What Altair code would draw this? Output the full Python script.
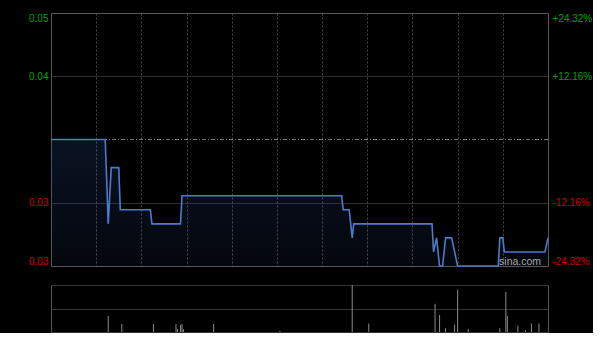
import altair as alt
import pandas as pd

# ---- data (trading-minute index 0..330, HKD) ----
minutes = [0, 36, 38, 40, 45, 46, 66, 67, 86, 87, 193, 194, 198, 200, 201,
           253, 254, 256, 258, 260, 262, 266, 268, 270, 297, 298, 300, 301, 328, 330]
prices = [0.037, 0.037, 0.031, 0.035, 0.035, 0.032, 0.032, 0.031, 0.031, 0.033,
          0.033, 0.032, 0.032, 0.030, 0.031,
          0.031, 0.029, 0.030, 0.028, 0.028, 0.030, 0.030, 0.029, 0.028,
          0.028, 0.030, 0.030, 0.029, 0.029, 0.030]

vol_minutes = [38, 47, 68, 83, 84, 86, 87, 88, 108, 152,
               200, 211, 255, 258, 262, 268, 270, 277, 298, 302,
               303, 310, 315, 319, 324]
volumes = [34, 17, 17, 17, 6, 15, 17, 6, 17, 2,
           100, 18, 60, 36, 8, 16, 90, 6, 8, 85,
           34, 13, 4, 18, 18]

prev_close = 0.037
price_ticks = [0.028, 0.0325, 0.0415, 0.046]
time_grid = [30, 60, 90, 120, 150, 180, 210, 240, 270, 300]
vol_ticks = [0, 50, 100]
watermark = ["sina.com"]

price_df = pd.DataFrame({"m": minutes, "p": prices})
vol_df = pd.DataFrame({"m": vol_minutes, "v": volumes})
wm_df = pd.DataFrame({"t": watermark})

FONT = "Liberation Sans"
GREEN = "#00a000"
RED = "#d40000"
W, H, VH = 497, 253, 47

xscale = alt.Scale(domain=[0, 330], nice=False, zero=False)
yscale = alt.Scale(domain=[0.028, 0.046], nice=False, zero=False)
vscale = alt.Scale(domain=[0, 100], nice=False)

label_color = {"condition": {"test": f"datum.value > {prev_close}", "value": GREEN}, "value": RED}

x_axis = alt.Axis(values=time_grid, labels=False, ticks=False, domain=False, title=None,
                  grid=True, gridColor="#4a4a4a", gridDash=[2, 2], gridWidth=1,
                  minExtent=0, maxExtent=0, offset=0)

left_axis = alt.Axis(values=price_ticks, title=None,
                     labelExpr="format(datum.value, '.2f')",
                     labelColor=label_color, labelFont=FONT, labelFontSize=10,
                     labelPadding=3, labelFlush=True, labelOverlap=False,
                     ticks=False, domain=False, grid=True, gridColor="#5a5a5a",
                     gridDash=[1, 1], minExtent=50, maxExtent=50)

right_axis = alt.Axis(orient="right", values=price_ticks, title=None,
                      labelExpr=f"(datum.value > {prev_close} ? '+' : '-') + format(abs(datum.value - {prev_close}) / {prev_close} * 100, '.2f') + '%'",
                      labelColor=label_color, labelFont=FONT, labelFontSize=10,
                      labelPadding=4, labelFlush=True, labelOverlap=False,
                      ticks=False, domain=False, grid=False)

area = alt.Chart(price_df).mark_area(
    color=alt.Gradient(
        gradient="linear",
        stops=[alt.GradientStop(color="rgba(45,85,160,0.22)", offset=0),
               alt.GradientStop(color="rgba(45,85,160,0.08)", offset=1)],
        x1=1, x2=1, y1=0, y2=1),
    interpolate="linear",
).encode(
    x=alt.X("m:Q", scale=xscale, axis=x_axis),
    y=alt.Y("p:Q", scale=yscale, axis=left_axis),
    y2=alt.datum(0.028),
)

prev_rule = alt.Chart(price_df).mark_rule(color="#7a7a7a", strokeDash=[4, 2, 1, 2], strokeWidth=1).encode(
    y=alt.YDatum(prev_close, axis=None, scale=yscale),
)

line = alt.Chart(price_df).mark_line(color="#4a7ccc", strokeWidth=1.6, interpolate="linear").encode(
    x=alt.X("m:Q", scale=xscale, axis=x_axis),
    y=alt.Y("p:Q", scale=yscale, axis=right_axis),
)

mark_text = alt.Chart(wm_df).mark_text(
    font=FONT, fontSize=10.5, color="#a8a8a8", align="left", baseline="alphabetic", dy=-1,
).encode(
    x=alt.XDatum(297.5, axis=x_axis, scale=xscale),
    y=alt.YDatum(0.028, axis=None, scale=yscale),
    text="t:N",
)

price_chart = alt.layer(area, prev_rule, line, mark_text).resolve_axis(y="independent").properties(
    width=W, height=H)

vol_left_axis = alt.Axis(values=vol_ticks, labels=False, ticks=False, domain=True, domainColor="#555555",
                         title=None, grid=True, gridColor="#666666", gridDash=[1, 1],
                         minExtent=50, maxExtent=50)
vol_right_axis = alt.Axis(orient="right", labels=False, ticks=False, domain=True, domainColor="#555555",
                          title=None, grid=False)

vol_bars = alt.Chart(vol_df).mark_rule(color="#8c8c8c", strokeWidth=1).encode(
    x=alt.X("m:Q", scale=xscale, axis=None),
    y=alt.Y("v:Q", scale=vscale, axis=vol_left_axis),
    y2=alt.datum(0),
)
vol_frame = alt.Chart(vol_df).mark_rule(opacity=0).encode(
    y=alt.Y("v:Q", scale=vscale, axis=vol_right_axis),
)

vol_chart = alt.layer(vol_bars, vol_frame).resolve_axis(y="independent").properties(
    width=W, height=VH, view=alt.ViewBackground(stroke=None))

chart = alt.vconcat(price_chart, vol_chart, spacing=14).configure(
    background="#000000",
    padding={"left": 0, "top": 12, "right": 0, "bottom": 0},
).configure_view(stroke="#555555", strokeWidth=1)

chart.save("out.html", embed_options={"renderer": "svg", "actions": False})
